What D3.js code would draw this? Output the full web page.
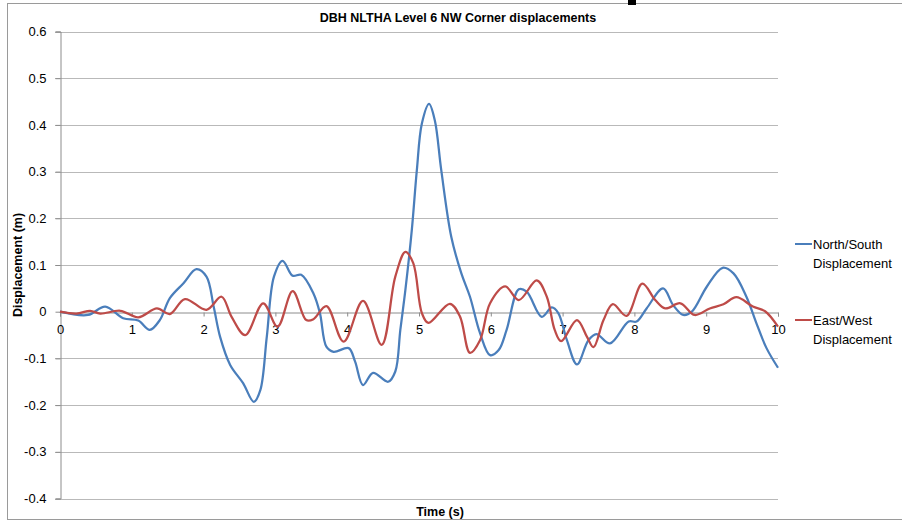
<!DOCTYPE html>
<html>
<head>
<meta charset="utf-8">
<script src="https://cdn.jsdelivr.net/npm/d3@7"></script>
<style>
  body { margin: 0; background: #fff; }
  svg { display: block; font-family: "Liberation Sans", Arial, sans-serif; }
</style>
</head>
<body>
<script>
// values
const nsTime = [0, 0.39, 0.63, 0.88, 1.09, 1.25, 1.39, 1.53, 1.72, 1.90, 2.04, 2.14, 2.23, 2.37, 2.55, 2.70, 2.79, 2.88, 2.98, 3.10, 3.24, 3.36, 3.53, 3.62, 3.71, 3.81, 4.02, 4.11, 4.22, 4.36, 4.57, 4.67, 4.74, 4.81, 4.90, 4.97, 5.04, 5.14, 5.22, 5.31, 5.45, 5.59, 5.71, 5.85, 5.99, 6.11, 6.22, 6.39, 6.50, 6.71, 6.85, 6.94, 7.06, 7.20, 7.36, 7.47, 7.66, 7.92, 8.03, 8.17, 8.40, 8.54, 8.68, 8.80, 9.01, 9.23, 9.38, 9.56, 9.70, 9.84, 10.0];
const nsDisp = [0, -0.007, 0.011, -0.014, -0.019, -0.039, -0.018, 0.029, 0.061, 0.091, 0.075, 0.011, -0.054, -0.114, -0.153, -0.193, -0.168, -0.054, 0.075, 0.109, 0.077, 0.079, 0.039, -0.003, -0.075, -0.086, -0.078, -0.107, -0.157, -0.131, -0.150, -0.128, -0.039, 0.046, 0.175, 0.303, 0.403, 0.445, 0.41, 0.303, 0.160, 0.082, 0.032, -0.046, -0.093, -0.082, -0.039, 0.048, 0.043, -0.011, 0.009, -0.003, -0.061, -0.113, -0.061, -0.048, -0.068, -0.021, -0.021, 0.007, 0.050, 0.014, -0.007, 0, 0.054, 0.094, 0.082, 0.032, -0.025, -0.078, -0.12];

const ewTime = [0, 0.23, 0.42, 0.56, 0.84, 1.09, 1.35, 1.53, 1.74, 2.04, 2.25, 2.39, 2.58, 2.83, 3.03, 3.24, 3.43, 3.53, 3.71, 3.95, 4.22, 4.48, 4.67, 4.81, 4.92, 5.04, 5.13, 5.43, 5.57, 5.71, 5.85, 5.99, 6.20, 6.39, 6.64, 6.78, 6.89, 6.98, 7.20, 7.34, 7.43, 7.57, 7.70, 7.89, 8.11, 8.29, 8.43, 8.64, 8.84, 9.05, 9.24, 9.42, 9.65, 9.82, 10.0];
const ewDisp = [0, -0.004, 0.002, -0.004, 0.002, -0.012, 0.007, -0.005, 0.027, 0.004, 0.032, -0.011, -0.050, 0.018, -0.032, 0.044, -0.018, -0.016, 0.012, -0.064, 0.023, -0.071, 0.075, 0.128, 0.104, -0.003, -0.024, 0.017, -0.010, -0.088, -0.061, 0.018, 0.054, 0.025, 0.067, 0.032, -0.039, -0.063, -0.018, -0.054, -0.076, -0.018, 0.016, -0.009, 0.060, 0.025, 0.007, 0.018, -0.007, 0.007, 0.016, 0.031, 0.011, 0.001, -0.032];

const xTicks = [0, 1, 2, 3, 4, 5, 6, 7, 8, 9, 10];
const yTicks = [-0.4, -0.3, -0.2, -0.1, 0, 0.1, 0.2, 0.3, 0.4, 0.5, 0.6];
const seriesNames = ["North/South", "East/West"];
const colors = ["#4a7ebb", "#be4b48"];

const w = 902, h = 522;
const svg = d3.select("body").append("svg").attr("width", w).attr("height", h);

// chart frame
svg.append("rect").attr("x", 7.5).attr("y", 3.5).attr("width", 900).attr("height", 516)
  .attr("fill", "none").attr("stroke", "#9a9a9a");
svg.append("rect").attr("x", 628).attr("y", 0).attr("width", 8).attr("height", 5).attr("fill", "#000");

const x = d3.scaleLinear().domain([0, 10]).range([60, 778]);
const y = d3.scaleLinear().domain([-0.4, 0.6]).range([498.5, 31.5]);

// gridlines
svg.append("g").selectAll("line").data(yTicks.filter(d => d !== 0)).enter().append("line")
  .attr("x1", 55).attr("x2", 778)
  .attr("y1", d => Math.round(y(d)) + 0.5).attr("y2", d => Math.round(y(d)) + 0.5)
  .attr("stroke", "#b9b9b9").attr("stroke-width", 1.2);

// y axis, plain hyphen for negatives like the original
const fmtY = d => d === 0 ? "0" : d.toFixed(1);
const yAxis = d3.axisLeft(y).tickValues(yTicks).tickSize(5).tickFormat(fmtY);
const gy = svg.append("g").attr("transform", "translate(60.5,0)").call(yAxis);
gy.select(".domain").attr("stroke", "#8c8c8c");
gy.selectAll(".tick line").attr("stroke", "#8c8c8c");
gy.selectAll(".tick text").attr("font-size", 13).attr("fill", "#000").attr("x", -14)
  .attr("font-family", "'Liberation Sans', Arial, sans-serif");

// x axis at zero
const xAxis = d3.axisBottom(x).tickValues(xTicks).tickSize(4).tickFormat(d => String(d));
const gx = svg.append("g").attr("transform", "translate(0," + (Math.round(y(0)) + 0.5) + ")").call(xAxis);
gx.select(".domain").attr("stroke", "#8c8c8c");
gx.selectAll(".tick line").attr("stroke", "#8c8c8c");
gx.selectAll(".tick text").attr("font-size", 13).attr("fill", "#000").attr("y", 12)
  .attr("font-family", "'Liberation Sans', Arial, sans-serif");

// lines
const line = d3.line().x(d => x(d[0])).y(d => y(d[1])).curve(d3.curveCatmullRom.alpha(0.5));
const series = [d3.zip(nsTime, nsDisp), d3.zip(ewTime, ewDisp)];
svg.append("g").selectAll("path").data(series).enter().append("path")
  .attr("d", line).attr("fill", "none")
  .attr("stroke", (d, i) => colors[i]).attr("stroke-width", 2.25);

// title and axis titles
svg.append("text").attr("x", 458).attr("y", 22).attr("text-anchor", "middle")
  .attr("font-size", 12.5).attr("font-weight", "bold")
  .text("DBH NLTHA Level 6 NW Corner displacements");
svg.append("text").attr("x", 440).attr("y", 516).attr("text-anchor", "middle")
  .attr("font-size", 12.5).attr("font-weight", "bold").text("Time (s)");
svg.append("text").attr("transform", "translate(22,265) rotate(-90)").attr("text-anchor", "middle")
  .attr("font-size", 12.5).attr("font-weight", "bold").text("Displacement (m)");

// legend
const legY = [244, 320];
const leg = svg.append("g").selectAll("g").data(seriesNames).enter().append("g")
  .attr("transform", (d, i) => "translate(0," + legY[i] + ")");
leg.append("line").attr("x1", 795).attr("x2", 812).attr("stroke", (d, i) => colors[i]).attr("stroke-width", 2);
leg.append("text").attr("x", 813).attr("y", 5).attr("font-size", 13).text(d => d);
leg.append("text").attr("x", 813).attr("y", 24).attr("font-size", 13).text("Displacement");
</script>
</body>
</html>
